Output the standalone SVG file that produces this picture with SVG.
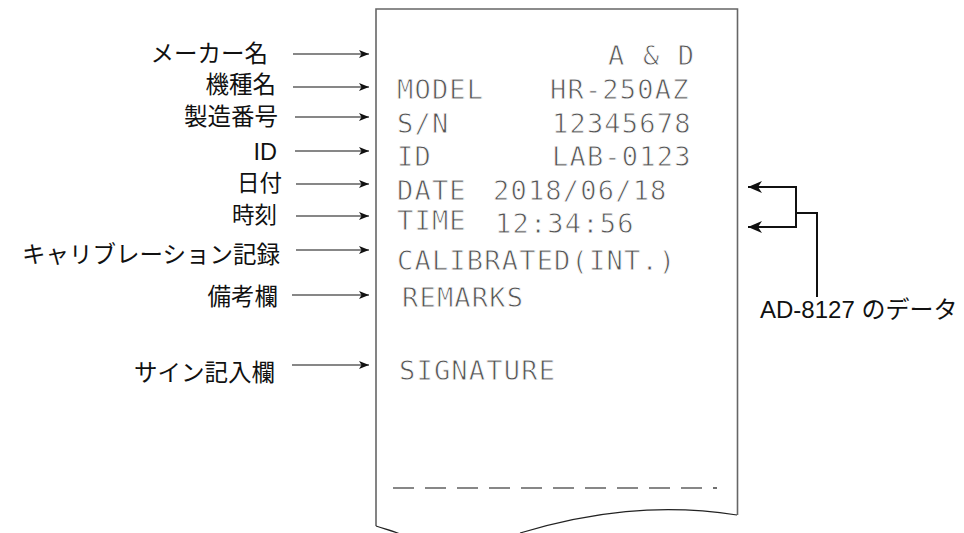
<svg xmlns="http://www.w3.org/2000/svg" width="964" height="533" viewBox="0 0 964 533">
<style>
.lbl{font-family:"Noto Sans CJK JP","Liberation Sans",sans-serif;font-size:23.5px;fill:#111;text-anchor:end}
.sm{font-size:22.5px}
.lat{font-family:"Liberation Sans",Arial,sans-serif}
.dm{font-family:"DejaVu Sans Mono","Liberation Mono",monospace;font-size:27px;letter-spacing:1.2px;fill:#555;stroke:#fff;stroke-width:0.8px;paint-order:fill}
.arr{stroke:#111;stroke-width:1.2;fill:none;marker-end:url(#ah)}
.brk{stroke:#111;stroke-width:2;fill:none}
</style>
<defs>
<marker id="ah" viewBox="0 0 10 8" refX="10" refY="4" markerWidth="10" markerHeight="8" markerUnits="userSpaceOnUse" orient="auto">
<path d="M0,0 L10,4 L0,8 L2.5,4 Z" fill="#111"/>
</marker>
<marker id="ah2" viewBox="0 0 16 14" refX="15" refY="7" markerWidth="16" markerHeight="14" markerUnits="userSpaceOnUse" orient="auto">
<path d="M1,1 L15,7 L1,13 L5,7 Z" fill="#111"/>
</marker>
</defs>
<rect width="964" height="533" fill="#fff"/>
<g id="paper">
<path d="M376,526 L376,9 L737.5,9 L737.5,515" fill="none" stroke="#666" stroke-width="1.6"/>
<path d="M376,526 C385,529 393,531 400,534" fill="none" stroke="#222" stroke-width="1.2"/>
<path d="M520,533 C590,512 660,503 737,515" fill="none" stroke="#222" stroke-width="1.2"/>
<line x1="393" y1="488" x2="703" y2="488" stroke="#111" stroke-width="1.2" stroke-dasharray="21 11"/>
<line x1="713" y1="488" x2="717" y2="488" stroke="#111" stroke-width="1.2"/>
</g>
<g id="receipt-text">
<text class="dm" x="608" y="65">A &amp; D</text>
<text class="dm" x="397" y="99">MODEL</text>
<text class="dm" x="550" y="99">HR-250AZ</text>
<text class="dm" x="397" y="133">S/N</text>
<text class="dm" x="552" y="133">12345678</text>
<text class="dm" x="397" y="166">ID</text>
<text class="dm" x="552" y="166">LAB-0123</text>
<text class="dm" x="397" y="200">DATE</text>
<text class="dm" x="493" y="200">2018/06/18</text>
<text class="dm" x="397" y="230">TIME</text>
<text class="dm" x="495" y="233">12:34:56</text>
<text class="dm" x="397" y="270">CALIBRATED(INT.)</text>
<text class="dm" x="402" y="307">REMARKS</text>
<text class="dm" x="399" y="380">SIGNATURE</text>
</g>
<g id="label-maker"><text class="lbl" x="268" y="62">メーカー名</text></g>
<g id="label-model"><text class="lbl" x="276" y="93">機種名</text></g>
<g id="label-serial"><text class="lbl" x="278" y="125">製造番号</text></g>
<g id="label-id"><text class="lbl lat" x="277" y="160">ID</text></g>
<g id="label-date"><text class="lbl sm" x="282" y="191">日付</text></g>
<g id="label-time"><text class="lbl sm" x="277" y="223">時刻</text></g>
<g id="label-cal"><text class="lbl" x="280" y="263">キャリブレーション記録</text></g>
<g id="label-remarks"><text class="lbl" x="278" y="305">備考欄</text></g>
<g id="label-sign"><text class="lbl" x="275" y="381">サイン記入欄</text></g>
<g id="label-ad"><text x="760" y="318" style="font-size:24px;fill:#111"><tspan class="lat">AD-8127 </tspan><tspan style="font-family:'Noto Sans CJK JP',sans-serif">のデータ</tspan></text></g>
<g id="connectors">
<line class="arr" x1="293" y1="54" x2="369" y2="54"/>
<line class="arr" x1="293" y1="87" x2="369" y2="87"/>
<line class="arr" x1="295" y1="117" x2="369" y2="117"/>
<line class="arr" x1="295" y1="151" x2="369" y2="151"/>
<line class="arr" x1="296" y1="184" x2="369" y2="184"/>
<line class="arr" x1="296" y1="216" x2="369" y2="216"/>
<line class="arr" x1="296" y1="250" x2="369" y2="250"/>
<line class="arr" x1="292" y1="295" x2="369" y2="295"/>
<line class="arr" x1="292" y1="365" x2="369" y2="365"/>
<path class="brk" d="M796,186 L796,228"/>
<path class="brk" d="M796,187 L748,187" marker-end="url(#ah2)"/>
<path class="brk" d="M796,227 L748,227" marker-end="url(#ah2)"/>
<path class="brk" d="M796,213 L817,213 L817,297"/>
</g>
</svg>
